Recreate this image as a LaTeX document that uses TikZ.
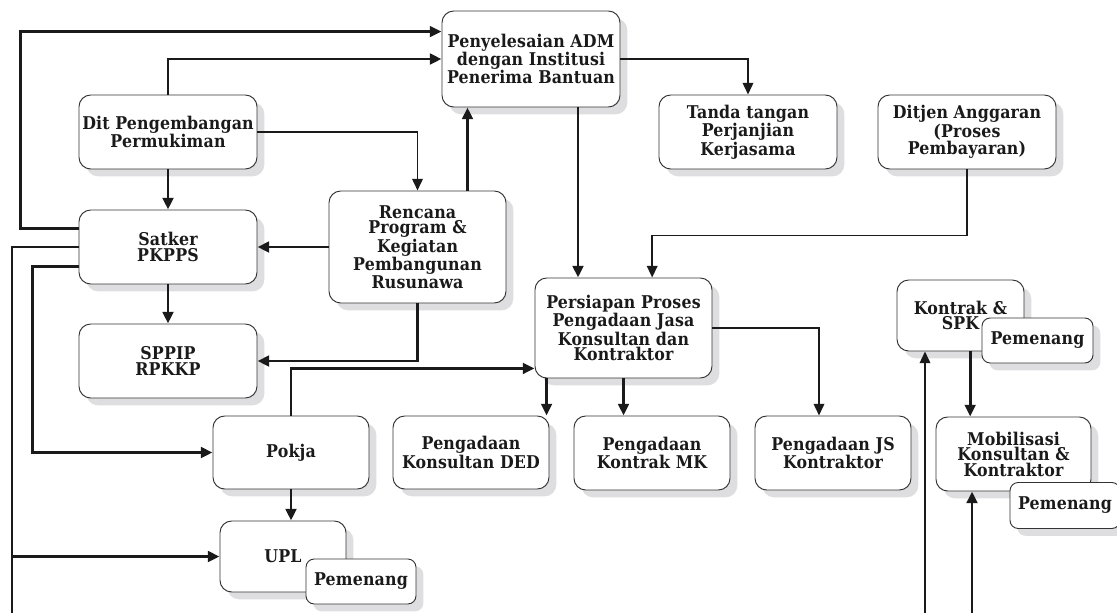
\documentclass[tikz,border=0pt]{standalone}
\usepackage{fontspec}
\setmainfont{DejaVu Serif Condensed}[LetterSpace=1]
\usepackage{tikz}
\usetikzlibrary{arrows.meta, positioning, calc, shadows}
\definecolor{BoxLine}{HTML}{333333}
\definecolor{ShadowGray}{HTML}{DEDEE0}
\definecolor{LineBlack}{HTML}{1A1A1A}
\tikzset{
  box/.style={draw=BoxLine, line width=0.8pt, rounded corners=10pt, fill=white,
              align=center, inner sep=2pt, text=LineBlack,
              font=\fontsize{15}{13.2}\selectfont\bfseries,
              drop shadow={shadow xshift=0.22cm, shadow yshift=-0.22cm,
                           fill=ShadowGray, opacity=1}},
  winbox/.style={box, rounded corners=7pt},
  flow/.style={draw=LineBlack, line width=2.5pt},
  arr/.style={flow, -{Triangle[length=10pt,width=9pt]}},
  arrthin/.style={arr, line width=1.6pt}
}

\begin{document}
\begin{tikzpicture}[x=0.03cm, y=-0.03cm]
\useasboundingbox (0,0) rectangle (1117,613);

\node[box, minimum width=5.34cm, minimum height=2.88cm] (penyel) at (531,59)
    {Penyelesaian ADM\\dengan Institusi\\Penerima Bantuan};
\node[box, minimum width=5.34cm, minimum height=2.22cm] (dit) at (168,132)
    {Dit Pengembangan\\Permukiman};
\node[box, minimum width=5.34cm, minimum height=2.22cm] (satker) at (168,247)
    {Satker\\PKPPS};
\node[box, minimum width=5.31cm, minimum height=3.36cm] (rencana) at (417.5,247)
    {Rencana\\Program \&\\Kegiatan\\Pembangunan\\Rusunawa};
\node[box, minimum width=5.34cm, minimum height=2.22cm] (sppip) at (168,361)
    {SPPIP\\RPKKP};
\node[box, minimum width=5.34cm, minimum height=2.22cm] (tanda) at (748,132)
    {Tanda tangan\\Perjanjian\\Kerjasama};
\node[box, minimum width=5.34cm, minimum height=2.22cm] (ditjen) at (967,132)
    {Ditjen Anggaran\\(Proses\\Pembayaran)};
\node[box, minimum width=5.31cm, minimum height=3.0cm] (persiapan) at (623.5,328)
    {Persiapan Proses\\Pengadaan Jasa\\Konsultan dan\\Kontraktor};
\node[box, minimum width=4.68cm, minimum height=2.19cm] (pokja) at (291,452.5)
    {Pokja};
\node[box, minimum width=4.68cm, minimum height=2.19cm] (ded) at (471,452.5)
    {Pengadaan\\Konsultan DED};
\node[box, minimum width=4.68cm, minimum height=2.22cm] (mk) at (652,453)
    {Pengadaan\\Kontrak MK};
\node[box, minimum width=4.68cm, minimum height=2.22cm] (js) at (833,453)
    {Pengadaan JS\\Kontraktor};
\node[box, minimum width=3.78cm, minimum height=2.13cm] (upl) at (283,556.5)
    {UPL};
\node[winbox, minimum width=3.3cm, minimum height=1.35cm] (uplwin) at (361,581.5)
    {Pemenang};
\node[box, minimum width=3.81cm, minimum height=2.13cm] (kontrak) at (960.5,315.5)
    {Kontrak \&\\SPK};
\node[winbox, minimum width=3.33cm, minimum height=1.35cm] (kontrakwin) at (1037.5,340.5)
    {Pemenang};
\node[box, minimum width=4.65cm, minimum height=2.22cm] (mobilisasi) at (1013.5,454)
    {Mobilisasi\\Konsultan \&\\Kontraktor};
\node[winbox, minimum width=3.3cm, minimum height=1.38cm] (mobwin) at (1065,505.5)
    {Pemenang};

\coordinate (bl) at (12,613);
\coordinate (kb) at (925,613);
\coordinate (mb) at (972,613);

\draw[arr] ([yshift=-0.57cm]satker.north west) -- ++(-58,0) |- ([yshift=-0.63cm]penyel.north west);
\draw[arr] (dit.north) |- (penyel.west);
\draw[arrthin] (dit.east) -| (rencana.north);
\draw[arr] (dit) -- (satker);
\draw[arr] (rencana.west) -- (satker.east);
\draw[arr] ([xshift=1.5cm]rencana.north) -- ([xshift=1.5cm]rencana.north |- penyel.south);
\draw[arr] (satker) -- (sppip);
\draw[arr] (rencana.south) |- (sppip.east);
\draw[arr] ([yshift=0.54cm]satker.south west) -- ++(-46,0) |- (pokja.west);
\draw[flow] (satker.west) -| (bl);
\draw[arr] (bl |- upl.west) -- (upl.west);
\draw[arr] (pokja.north) |- ([yshift=0.3cm]persiapan.south west);
\draw[arr] (pokja.south) -- (pokja.south |- upl.north);
\draw[arrthin] (penyel.east) -| (tanda.north);
\draw[arr] ([xshift=1.41cm]penyel.south) -- ([xshift=1.41cm]penyel.south |- persiapan.north);
\draw[arrthin] (ditjen.south) -- ++(0,66) -| ([xshift=0.86cm]persiapan.north);
\draw[arr] ([xshift=0.36cm]persiapan.south west) -- ([xshift=0.36cm]persiapan.south west |- ded.north);
\draw[arr] (persiapan.south) -- (persiapan.south |- mk.north);
\draw[arrthin] (persiapan.east) -| ([xshift=-0.42cm]js.north);
\draw[arr] ([xshift=0.29cm]kontrak.south) -- ([xshift=0.29cm]kontrak.south |- mobilisasi.north);
\draw[arrthin] (kb) -- (kb |- kontrak.south);
\draw[arr] (mb) -- (mb |- mobilisasi.south);
\end{tikzpicture}
\end{document}
